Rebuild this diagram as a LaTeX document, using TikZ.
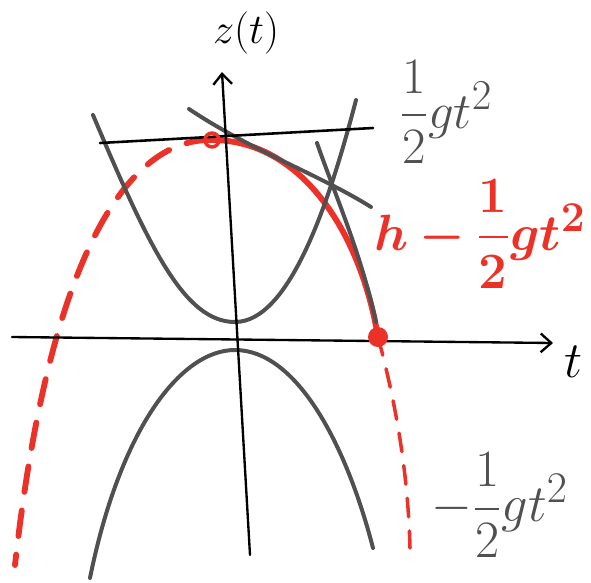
\documentclass[tikz,border=0pt]{standalone}
\usepackage{graphicx}
\usepackage{amsmath,bm}
\usetikzlibrary{arrows.meta}
\definecolor{pen}{RGB}{80,80,80}
\definecolor{marker}{RGB}{236,50,40}
\newcommand{\handlabel}[2]{\scalebox{#1}{\Huge #2}}
\tikzset{
  axis/.style={line width=2pt,black,line cap=round,-{Straight Barb[length=9pt,width=16pt,line width=2pt]}},
  sketch/.style={line width=3.4pt,pen,line cap=round},
  fall/.style={line width=5pt,marker,line cap=round},
  falldash/.style={fall,dash pattern=on 22pt off 16pt}
}
\begin{document}
\begin{tikzpicture}[x=0.03cm,y=-0.03cm]
	\useasboundingbox (0,0) rectangle (591,582);

	\coordinate (t0) at (12,337);
	\coordinate (t1) at (553,343);
	\coordinate (z0) at (250,555);
	\coordinate (z1) at (222,72);
	\coordinate (top0) at (100,143);
	\coordinate (top1) at (373,128);
	\coordinate (vtx) at (212,140);
	\coordinate (hit) at (378,337);

	\draw[falldash] (vtx) .. controls (130,138) and (50,250) .. (15,565);
	\draw[fall] (vtx) .. controls (300,140) and (360,230) .. (hit);
	\draw[falldash,line width=3pt,dash pattern=on 16pt off 12pt] (hit) .. controls (395,400) and (408,470) .. (410,548);

	\draw[sketch] (93,115) .. controls (150,250) and (185,322) .. (235,322)
		.. controls (290,322) and (330,200) .. (356,100);
	\draw[sketch] (90,578) .. controls (120,430) and (180,350) .. (235,350)
		.. controls (295,350) and (345,440) .. (373,548);
	\draw[sketch] (189,109) .. controls (250,150) and (320,175) .. (371,207);
	\draw[sketch] (317,143) .. controls (335,195) and (360,250) .. (376,322);

	\draw[line width=2.2pt,line cap=round] (top0) -- (top1);
	\draw[axis] (t0) -- (t1);
	\draw[axis] (z0) -- (z1);

	\draw[marker,line width=3pt] (vtx) circle (7);
	\fill[marker] (hit) circle (10);

	\node (zlab) at (246,33) {\handlabel{1.45}{$z(t)$}};
	\node (tlab) at (574,362) {\handlabel{1.75}{$t$}};
	\node[text=pen] (uplab) at (446,112) {\handlabel{1.75}{$\dfrac{1}{2}gt^2$}};
	\node[text=marker] (hlab) at (480,234) {\handlabel{1.75}{$\bm{h-\dfrac{1}{2}gt^2}$}};
	\node[text=pen] (downlab) at (500,505) {\handlabel{1.8}{$-\dfrac{1}{2}gt^2$}};
\end{tikzpicture}
\end{document}
